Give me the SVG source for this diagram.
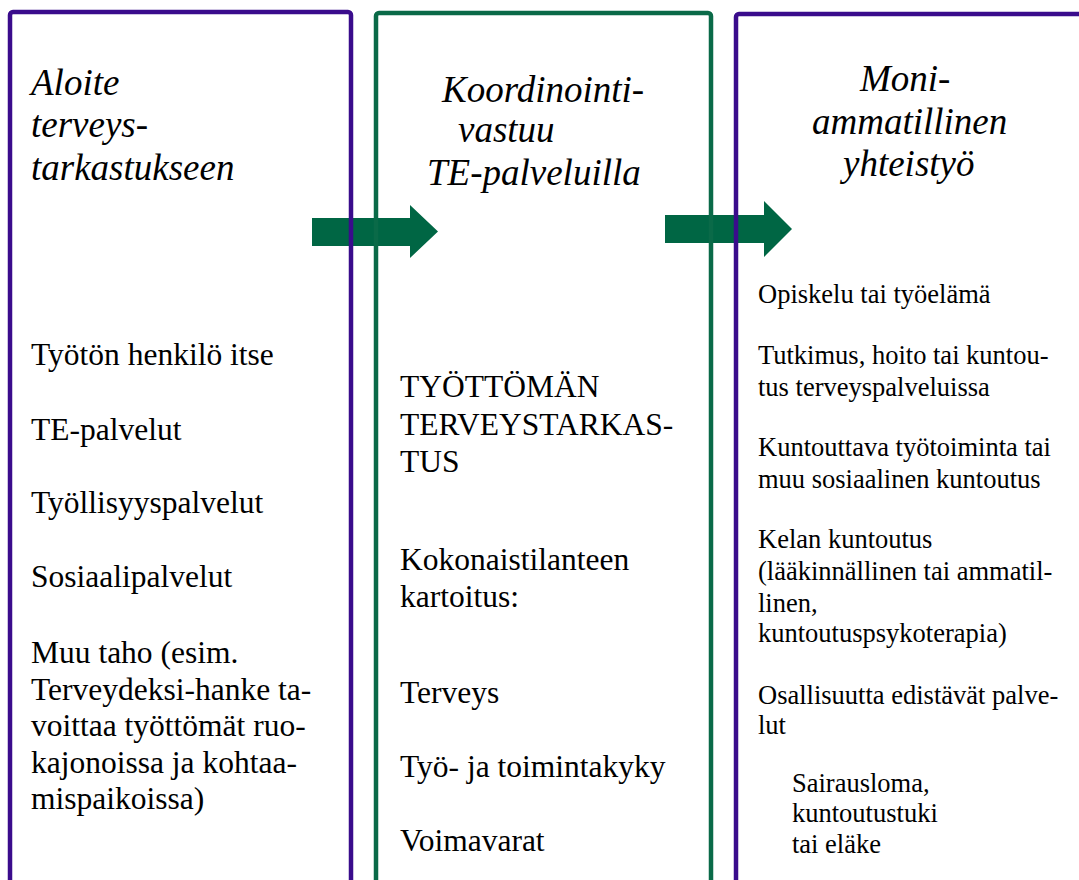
<svg xmlns="http://www.w3.org/2000/svg" width="1079" height="880" viewBox="0 0 1079 880">
<style>
.box{fill:none;stroke-width:4.5}
.purple{stroke:#3a0c8c}
.green{stroke:#0a6a48}
.arrow{fill:#006644}
.title{font-style:italic;font-size:37px;fill:#000}
.body{font-size:31.5px;fill:#000}
.small{font-size:26.5px;fill:#000}
</style>
<rect width="1079" height="880" fill="#fff"/>
<g id="connectors">
<polygon class="arrow" points="312,218 410,218 410,205 438,231.5 410,258 410,246 312,246"/>
<polygon class="arrow" points="665,215 764,215 764,201 792,229 764,257 764,243 665,243"/>
</g>
<g font-family="Liberation Serif, serif">
<g id="node-aloite">
<rect class="box purple" x="10" y="12" width="341" height="900" rx="3"/>
<text class="title" x="31" y="95">Aloite</text>
<text class="title" x="31" y="137">terveys-</text>
<text class="title" x="31" y="180">tarkastukseen</text>
<text class="body" x="31" y="365">Työtön henkilö itse</text>
<text class="body" x="31" y="440">TE-palvelut</text>
<text class="body" x="31" y="513">Työllisyyspalvelut</text>
<text class="body" x="31" y="587">Sosiaalipalvelut</text>
<text class="body" x="31" y="663">Muu taho (esim.</text>
<text class="body" x="31" y="699.5">Terveydeksi-hanke ta-</text>
<text class="body" x="31" y="736">voittaa työttömät ruo-</text>
<text class="body" x="31" y="772.5">kajonoissa ja kohtaa-</text>
<text class="body" x="31" y="809">mispaikoissa)</text>
</g>
<g id="node-koordinointi">
<rect class="box green" x="376" y="13" width="335" height="900" rx="3"/>
<text class="title" x="442" y="102">Koordinointi-</text>
<text class="title" x="458" y="142">vastuu</text>
<text class="title" x="427" y="185">TE-palveluilla</text>
<text class="body" x="400" y="397">TYÖTTÖMÄN</text>
<text class="body" x="400" y="435">TERVEYSTARKAS-</text>
<text class="body" x="400" y="472">TUS</text>
<text class="body" x="400" y="570">Kokonaistilanteen</text>
<text class="body" x="400" y="607">kartoitus:</text>
<text class="body" x="400" y="703">Terveys</text>
<text class="body" x="400" y="777">Työ- ja toimintakyky</text>
<text class="body" x="400" y="851">Voimavarat</text>
</g>
<g id="node-moniammatillinen">
<rect class="box purple" x="736" y="14" width="400" height="900" rx="3"/>
<text class="title" x="860" y="91">Moni-</text>
<text class="title" x="812" y="134">ammatillinen</text>
<text class="title" x="843" y="176">yhteistyö</text>
<text class="small" x="758" y="303">Opiskelu tai työelämä</text>
<text class="small" x="758" y="364">Tutkimus, hoito tai kuntou-</text>
<text class="small" x="758" y="396">tus terveyspalveluissa</text>
<text class="small" x="758" y="456">Kuntouttava työtoiminta tai</text>
<text class="small" x="758" y="488">muu sosiaalinen kuntoutus</text>
<text class="small" x="758" y="548">Kelan kuntoutus</text>
<text class="small" x="758" y="580">(lääkinnällinen tai ammatil-</text>
<text class="small" x="758" y="612">linen,</text>
<text class="small" x="758" y="642">kuntoutuspsykoterapia)</text>
<text class="small" x="758" y="704">Osallisuutta edistävät palve-</text>
<text class="small" x="758" y="734">lut</text>
<text class="small" x="792" y="792">Sairausloma,</text>
<text class="small" x="792" y="822">kuntoutustuki</text>
<text class="small" x="792" y="853">tai eläke</text>
</g>
</g>
</svg>
